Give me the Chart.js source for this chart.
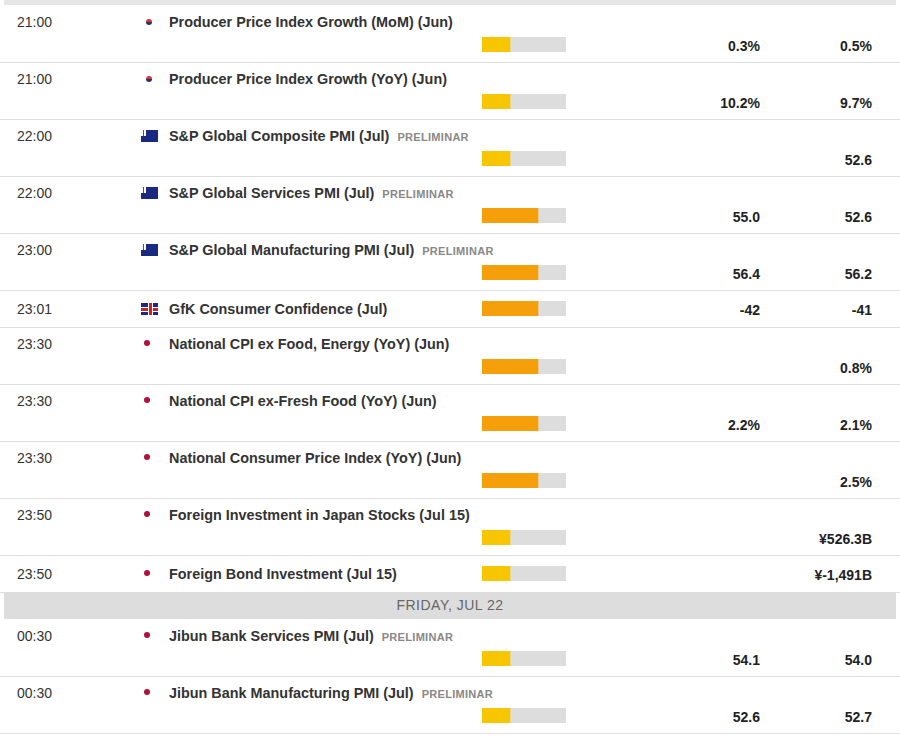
<!DOCTYPE html>
<html>
<head>
<meta charset="utf-8">
<script src="https://cdn.jsdelivr.net/npm/chart.js@4/dist/chart.umd.min.js"></script>
<style>
  body { margin: 0; background: #fff; font-family: "Liberation Sans", Arial, sans-serif; }
  #wrap { position: relative; width: 900px; height: 737px; overflow: hidden; }
  .row { position: absolute; left: 0; width: 900px; border-bottom: 1px solid #ddd; }
  .time { position: absolute; left: 17px; font-size: 14px; color: #333; }
  .title { position: absolute; left: 169px; font-size: 14.4px; font-weight: bold; color: #333; white-space: nowrap; }
  .tag { font-size: 11px; color: #888; margin-left: 8px; letter-spacing: 0.3px; }
  .flag { position: absolute; left: 141px; width: 17px; height: 12px; }
  .val { position: absolute; font-size: 14px; font-weight: bold; color: #222; text-align: right; width: 120px; }
  canvas.imp { position: absolute; left: 482px; }
  .day { position: absolute; left: 4px; width: 892px; height: 27px; background: #ddd; color: #666;
         font-size: 14px; text-align: center; line-height: 27px; letter-spacing: 0.5px; }
  #topline { position: absolute; left: 4px; top: 0; width: 892px; height: 5px; background: #e6e6e6; }
</style>
</head>
<body>
<div id="wrap"><div id="topline"></div></div>
<script>
// calendar rows
const times = ["21:00", "21:00", "22:00", "22:00", "23:00", "23:01", "23:30", "23:30", "23:30", "23:50", "23:50", "00:30", "00:30"];
const flags = ["kr", "kr", "au", "au", "au", "gb", "jp", "jp", "jp", "jp", "jp", "jp", "jp"];
const titles = [
  "Producer Price Index Growth (MoM) (Jun)",
  "Producer Price Index Growth (YoY) (Jun)",
  "S&P Global Composite PMI (Jul)",
  "S&P Global Services PMI (Jul)",
  "S&P Global Manufacturing PMI (Jul)",
  "GfK Consumer Confidence (Jul)",
  "National CPI ex Food, Energy (YoY) (Jun)",
  "National CPI ex-Fresh Food (YoY) (Jun)",
  "National Consumer Price Index (YoY) (Jun)",
  "Foreign Investment in Japan Stocks (Jul 15)",
  "Foreign Bond Investment (Jul 15)",
  "Jibun Bank Services PMI (Jul)",
  "Jibun Bank Manufacturing PMI (Jul)"
];
const tags = ["", "", "PRELIMINAR", "PRELIMINAR", "PRELIMINAR", "", "", "", "", "", "", "PRELIMINAR", "PRELIMINAR"];
const importance = [1, 1, 1, 2, 2, 2, 2, 2, 2, 1, 1, 1, 1]; // out of 3
const forecasts = ["0.3%", "10.2%", "", "55.0", "56.4", "-42", "", "2.2%", "", "", "", "54.1", "52.6"];
const previous = ["0.5%", "9.7%", "52.6", "52.6", "56.2", "-41", "0.8%", "2.1%", "2.5%", "¥526.3B", "¥-1,491B", "54.0", "52.7"];
const singleLine = [false, false, false, false, false, true, false, false, false, false, true, false, false];
const dayLabel = "FRIDAY, JUL 22";
const dayBefore = 11;
const impColors = { 1: "#f7c600", 2: "#f5a00a" };

function flagHtml(code) {
  if (code === "kr") return '<div class="flag" style="background:#fff"><div style="position:absolute;left:5px;top:3px;width:6px;height:6px;border-radius:50%;background:linear-gradient(#d33 50%,#236 50%)"></div></div>';
  if (code === "jp") return '<div class="flag" style="background:#fff;width:12px"><div style="position:absolute;left:3px;top:2px;width:6px;height:6px;border-radius:50%;background:#b0103a"></div></div>';
  if (code === "au") return '<div class="flag" style="background:#1a2a80"><div style="position:absolute;left:0;top:0;width:8px;height:6px;background:linear-gradient(90deg,#fff 20%,#c22 20% 40%,#fff 40% 60%,#1a2a80 60%)"></div></div>';
  return '<div class="flag" style="background:#1a2a80"><div style="position:absolute;left:0;top:5px;width:17px;height:3px;background:#c22;border-top:1px solid #fff;border-bottom:1px solid #fff;top:4px"></div><div style="position:absolute;left:7px;top:0;width:3px;height:12px;background:#c22;border-left:1px solid #fff;border-right:1px solid #fff"></div></div>';
}

const wrap = document.getElementById("wrap");
let y = 6;
times.forEach((t, i) => {
  if (i === dayBefore) {
    const d = document.createElement("div");
    d.className = "day";
    d.style.top = (y - 1) + "px";
    d.textContent = dayLabel;
    wrap.appendChild(d);
    y += 27;
  }
  const h = singleLine[i] ? 36 : 56;
  const row = document.createElement("div");
  row.className = "row";
  row.style.top = y + "px";
  row.style.height = h + "px";
  const textTop = singleLine[i] ? 10 : 8;
  const barTop = singleLine[i] ? 10 : 31;
  row.innerHTML =
    '<div class="time" style="top:' + textTop + 'px">' + t + '</div>' +
    '<div style="position:absolute;top:' + (textTop + 2) + 'px">' + flagHtml(flags[i]) + '</div>' +
    '<div class="title" style="top:' + textTop + 'px">' + titles[i].replace("&", "&amp;") +
      (tags[i] ? '<span class="tag">' + tags[i] + '</span>' : '') + '</div>' +
    '<div class="val" style="left:640px;top:' + (barTop + 1) + 'px">' + forecasts[i] + '</div>' +
    '<div class="val" style="left:752px;top:' + (barTop + 1) + 'px">' + previous[i] + '</div>' +
    '<canvas class="imp" width="84" height="15" style="top:' + barTop + 'px"></canvas>';
  wrap.appendChild(row);

  new Chart(row.querySelector("canvas"), {
    type: "bar",
    data: {
      labels: [""],
      datasets: [
        { data: [importance[i]], backgroundColor: impColors[importance[i]] },
        { data: [3 - importance[i]], backgroundColor: "#dddddd" }
      ]
    },
    options: {
      indexAxis: "y",
      responsive: false,
      animation: false,
      layout: { padding: 0 },
      datasets: { bar: { barPercentage: 1, categoryPercentage: 1, borderWidth: 0 } },
      scales: {
        x: { stacked: true, display: false, min: 0, max: 3 },
        y: { stacked: true, display: false }
      },
      plugins: { legend: { display: false }, tooltip: { enabled: false } }
    }
  });
  y += h + 1;
});
</script>
</body>
</html>
